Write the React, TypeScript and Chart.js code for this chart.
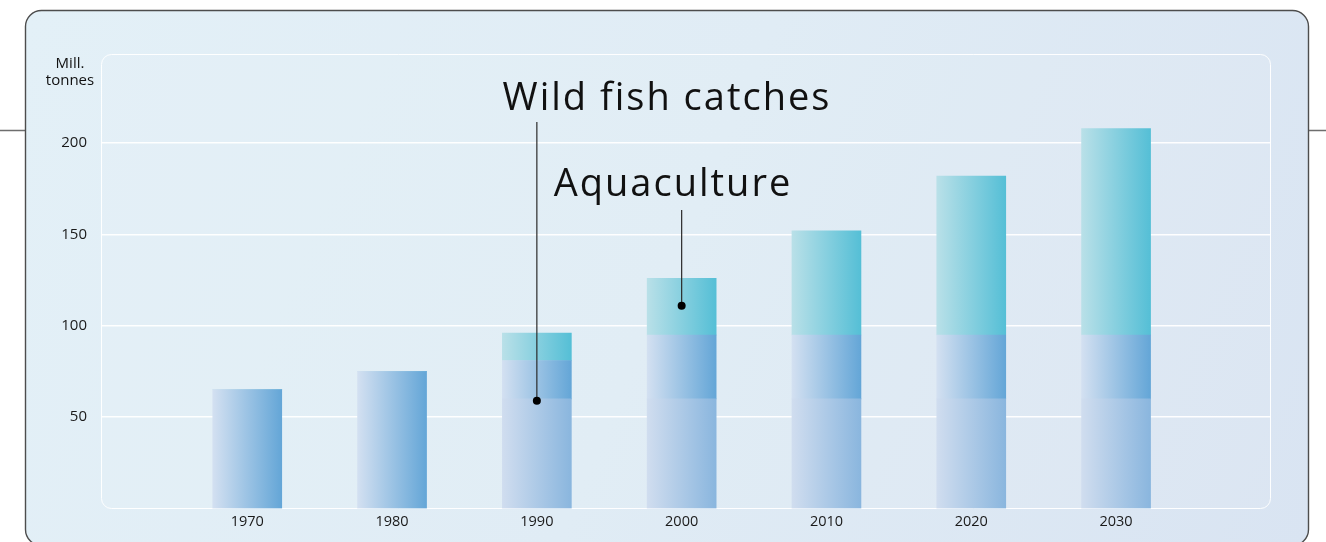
import { useEffect, useRef } from 'react';
import { Chart, registerables } from 'chart.js';

Chart.register(...registerables);

// Global production, million tonnes
const years = [1970, 1980, 1990, 2000, 2010, 2020, 2030];
const wildCatches = [65, 75, 81, 95, 95, 95, 95];
const aquaculture = [0, 0, 15, 31, 57, 87, 113];

// From 1990 on, the part of the wild catch below this level is drawn in a paler shade
const shadedFromYear = 1990;
const shadedLevel = 60;

const yTickValues = [50, 100, 150, 200];
const yAxisCaption = ['Mill.', 'tonnes'];

// Call-out labels pointing into the bars
const callouts = [
  { text: 'Wild fish catches', year: 1990, value: 59, textCenterX: 667, baseline: 110, lineTop: 122 },
  { text: 'Aquaculture', year: 2000, value: 111, textCenterX: 673, baseline: 196, lineTop: 210 },
];

const FONT = "'Open Sans', 'Noto Sans', sans-serif";
const BAR_WIDTH = 69;

const wildLower = wildCatches.map((w, i) => (years[i] >= shadedFromYear ? Math.min(w, shadedLevel) : w));
const wildUpper = wildCatches.map((w, i) => w - wildLower[i]);

type Stops = [string, string];
const WILD: Stops = ['#d3e0f1', '#64a6d7'];
const WILD_PALE: Stops = ['#d0ddef', '#8ab6de'];
const AQUA: Stops = ['#b9e0e8', '#55bfd6'];

function barGradient(stops: Stops | ((i: number) => Stops)) {
  return (c: any) => {
    const chart = c.chart;
    const xs = chart.scales?.x;
    const pair = Array.isArray(stops) ? stops : stops(c.dataIndex ?? 0);
    if (!xs || !c.raw) return pair[1];
    const cx = xs.getPixelForValue(c.raw.x);
    if (!Number.isFinite(cx)) return pair[1];
    const left = cx - BAR_WIDTH / 2;
    const g = chart.ctx.createLinearGradient(left, 0, left + BAR_WIDTH, 0);
    g.addColorStop(0, pair[0]);
    g.addColorStop(1, pair[1]);
    return g;
  };
}

const panelPlugin = {
  id: 'panel',
  beforeDraw(chart: any) {
    const { ctx, width, chartArea: a } = chart;
    ctx.save();
    // side rules
    ctx.strokeStyle = '#6e6e6e';
    ctx.lineWidth = 1.5;
    ctx.beginPath();
    ctx.moveTo(0, 130.5);
    ctx.lineTo(26, 130.5);
    ctx.moveTo(1308, 130.5);
    ctx.lineTo(width, 130.5);
    ctx.stroke();

    // outer panel
    const bg = ctx.createLinearGradient(25, 10, 1309, 545);
    bg.addColorStop(0, '#e3f0f7');
    bg.addColorStop(0.5, '#e0ecf5');
    bg.addColorStop(1, '#d9e4f2');
    ctx.beginPath();
    ctx.roundRect(25.5, 10.5, 1283, 535, 16);
    ctx.fillStyle = bg;
    ctx.fill();
    ctx.strokeStyle = '#4d4d4d';
    ctx.lineWidth = 1.4;
    ctx.stroke();

    // plot box
    ctx.beginPath();
    ctx.roundRect(a.left + 0.5, a.top + 0.5, a.right - a.left - 1, a.bottom - a.top - 0.5, 10);
    ctx.fillStyle = 'rgba(255,255,255,0.06)';
    ctx.fill();
    ctx.strokeStyle = 'rgba(255,255,255,0.95)';
    ctx.lineWidth = 1;
    ctx.stroke();

    // unit caption
    ctx.fillStyle = '#111';
    ctx.font = `15px ${FONT}`;
    ctx.textAlign = 'center';
    ctx.textBaseline = 'alphabetic';
    ctx.fillText(yAxisCaption[0], 70, 68);
    ctx.fillText(yAxisCaption[1], 70, 85);
    ctx.restore();
  },
};

const calloutPlugin = {
  id: 'callouts',
  afterDatasetsDraw(chart: any) {
    const { ctx, scales } = chart;
    ctx.save();
    for (const c of callouts) {
      const px = scales.x.getPixelForValue(c.year);
      const py = scales.y.getPixelForValue(c.value);
      ctx.strokeStyle = '#2a2a2a';
      ctx.lineWidth = 1.2;
      ctx.beginPath();
      ctx.moveTo(px, c.lineTop);
      ctx.lineTo(px, py);
      ctx.stroke();
      ctx.fillStyle = '#000';
      ctx.beginPath();
      ctx.arc(px, py, 4, 0, Math.PI * 2);
      ctx.fill();

      ctx.font = `38px ${FONT}`;
      (ctx as any).letterSpacing = '2px';
      ctx.textAlign = 'center';
      ctx.textBaseline = 'alphabetic';
      ctx.fillStyle = '#111';
      ctx.fillText(c.text, c.textCenterX, c.baseline);
    }
    ctx.restore();
  },
};

export default function App() {
  const ref = useRef<HTMLCanvasElement | null>(null);

  useEffect(() => {
    document.body.style.margin = '0';
    const canvas = ref.current;
    if (!canvas) return;
    const pts = (vals: number[]) => vals.map((v, i) => ({ x: years[i], y: v }));
    const chart = new Chart(canvas, {
      type: 'bar',
      data: {
        datasets: [
          {
            label: 'Wild fish catches',
            data: pts(wildLower),
            backgroundColor: barGradient((i) => (years[i] >= shadedFromYear ? WILD_PALE : WILD)),
          },
          {
            label: 'Wild fish catches',
            data: pts(wildUpper),
            backgroundColor: barGradient(WILD),
          },
          {
            label: 'Aquaculture',
            data: pts(aquaculture),
            backgroundColor: barGradient(AQUA),
          },
        ],
      },
      options: {
        responsive: false,
        animation: false,
        events: [],
        layout: { padding: { left: 0, right: 55, top: 54, bottom: 0 } },
        datasets: { bar: { barThickness: BAR_WIDTH, borderWidth: 0 } },
        plugins: { legend: { display: false }, tooltip: { enabled: false } },
        scales: {
          x: {
            type: 'linear',
            stacked: true,
            offset: false,
            min: 1959.9,
            max: 2040.7,
            grid: { display: false, drawTicks: false },
            border: { display: false },
            afterBuildTicks: (s: any) => {
              s.ticks = years.map((v) => ({ value: v }));
            },
            afterFit: (s: any) => {
              s.height = 33.5;
            },
            ticks: {
              padding: 5,
              maxRotation: 0,
              autoSkip: false,
              color: '#1a1a1a',
              font: { family: FONT, size: 14.5 },
              callback: (v: any) => String(v),
            },
          },
          y: {
            stacked: true,
            min: 0,
            max: 248.8,
            border: { display: false },
            grid: { color: 'rgba(255,255,255,0.95)', lineWidth: 1.5, drawTicks: false },
            afterBuildTicks: (s: any) => {
              s.ticks = yTickValues.map((v) => ({ value: v }));
            },
            afterFit: (s: any) => {
              s.width = 101;
            },
            ticks: {
              padding: 14,
              color: '#1a1a1a',
              font: { family: FONT, size: 15 },
            },
          },
        },
      },
      plugins: [panelPlugin, calloutPlugin],
    });
    return () => chart.destroy();
  }, []);

  return (
    <div style={{ position: 'absolute', left: 0, top: 0, width: 1326, height: 542 }}>
      <canvas ref={ref} width={1326} height={542} style={{ display: 'block', width: 1326, height: 542 }} />
    </div>
  );
}
